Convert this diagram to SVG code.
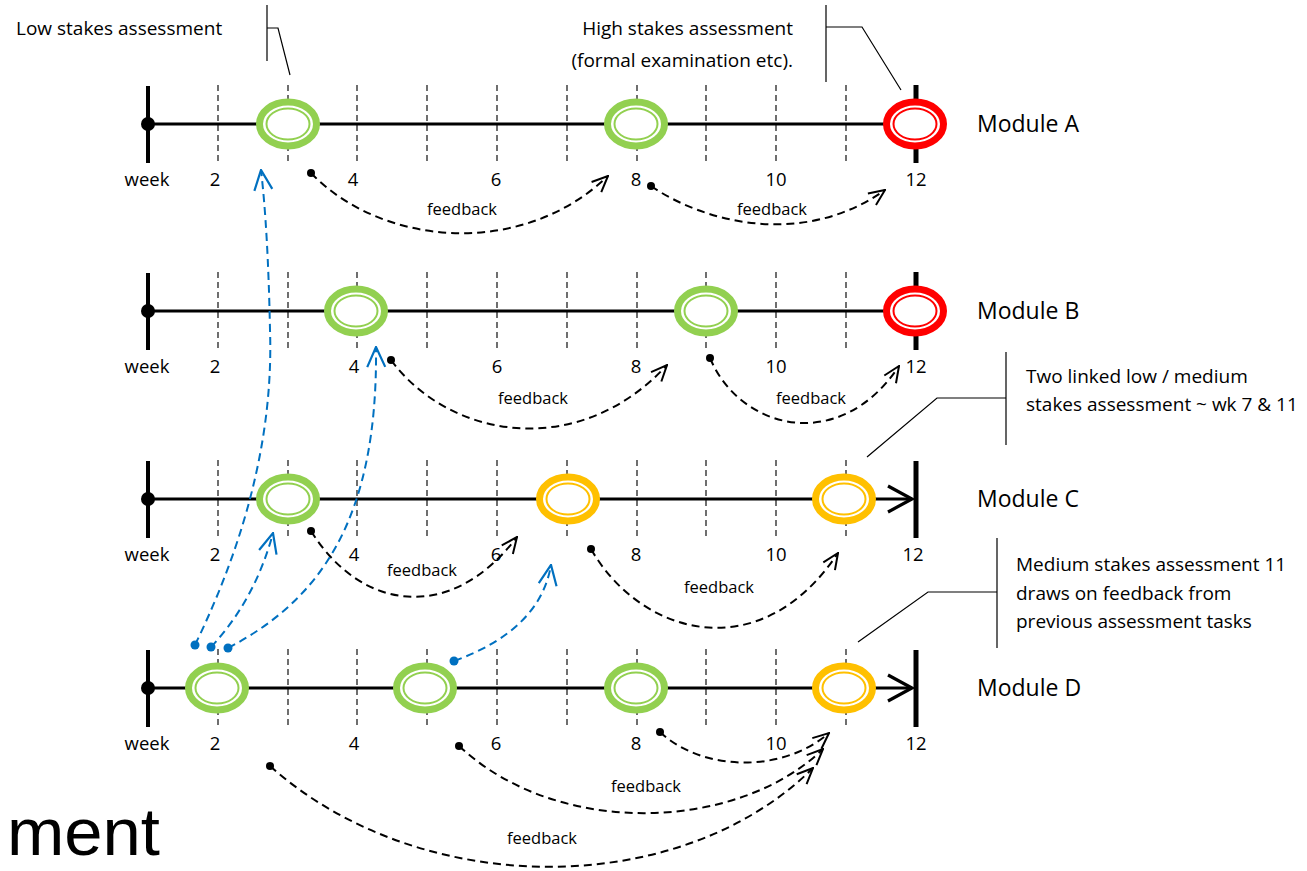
<svg xmlns="http://www.w3.org/2000/svg" width="1307" height="871" viewBox="0 0 1307 871">
<style>
.bg{fill:#fff}
.axis{stroke:#000;stroke-width:3.2;fill:none}
.bar{stroke:#000;stroke-width:4;fill:none}
.endbar{stroke:#000;stroke-width:5;fill:none}
.tick{stroke:#222;stroke-width:1.3;stroke-dasharray:6 4;fill:none}
.ring{fill:#fff;stroke-width:7}
.inner{fill:none;stroke-width:2}
.g{stroke:#92D050}
.r{stroke:#FF0000}
.o{stroke:#FFC000}
.t{font-family:"Open Sans","Liberation Sans",sans-serif;fill:#000}
.wk{font-size:18.5px;text-anchor:middle}
.mod{font-size:23px}
.note{font-size:19px}
.fbt{font-size:16.5px;text-anchor:middle}
.call{stroke:#000;stroke-width:1.2;fill:none}
.fb{stroke:#000;stroke-width:2;stroke-dasharray:8 5;fill:none;marker-start:url(#dotK);marker-end:url(#arrK)}
.bl{stroke:#0070C0;stroke-width:2;stroke-dasharray:8 5;fill:none;marker-start:url(#dotB);marker-end:url(#arrB)}
</style>
<defs>
<marker id="arrK" viewBox="0 0 20 20" refX="19" refY="10" markerWidth="20" markerHeight="20" markerUnits="userSpaceOnUse" orient="auto"><path d="M3,3 L19,10 L3,17" fill="none" stroke="#000" stroke-width="2"/></marker>
<marker id="arrB" viewBox="0 0 24 24" refX="23" refY="12" markerWidth="24" markerHeight="24" markerUnits="userSpaceOnUse" orient="auto"><path d="M3,3 L23,12 L3,21" fill="none" stroke="#0070C0" stroke-width="2.2"/></marker>
<marker id="dotK" viewBox="-5 -5 10 10" markerWidth="10" markerHeight="10" markerUnits="userSpaceOnUse"><circle r="4" fill="#000"/></marker>
<marker id="dotB" viewBox="-5 -5 10 10" markerWidth="10" markerHeight="10" markerUnits="userSpaceOnUse"><circle r="4.5" fill="#0070C0"/></marker>
<g id="ellG"><ellipse class="ring g" rx="28.5" ry="22"/><ellipse class="inner g" rx="21.5" ry="15.5"/></g>
<g id="ellR"><ellipse class="ring r" rx="28.5" ry="22"/><ellipse class="inner r" rx="21.5" ry="15.5"/></g>
<g id="ellO"><ellipse class="ring o" rx="28.5" ry="22"/><ellipse class="inner o" rx="21.5" ry="15.5"/></g>
<g id="ticks"><path class="tick" d="M218,-39V39M288,-39V39M357,-39V39M427,-39V39M497,-39V39M567,-39V39M637,-39V39M706,-39V39M776,-39V39M846,-39V39"/></g>
</defs>
<rect class="bg" width="1307" height="871"/>

<!-- Module A -->
<g id="module-a" transform="translate(0,124)">
<use href="#ticks"/>
<path class="axis" d="M148,0H912"/>
<path class="bar" d="M148,-38V39"/>
<circle cx="148" cy="0" r="7"/>
<path class="endbar" d="M916,-39V39"/>
<text class="t wk" x="147" y="62">week</text>
<text class="t wk" x="215" y="62">2</text>
<text class="t wk" x="353" y="62">4</text>
<text class="t wk" x="496" y="62">6</text>
<text class="t wk" x="636" y="62">8</text>
<text class="t wk" x="776" y="62">10</text>
<text class="t wk" x="916" y="62">12</text>
<text class="t mod" x="977" y="8">Module A</text>
</g>
<g id="a-wk3"><use href="#ellG" x="288" y="124"/></g>
<g id="a-wk8"><use href="#ellG" x="636" y="124"/></g>
<g id="a-wk12"><use href="#ellR" x="915" y="124"/></g>

<!-- Module B -->
<g id="module-b" transform="translate(0,311)">
<use href="#ticks"/>
<path class="axis" d="M148,0H912"/>
<path class="bar" d="M148,-38V39"/>
<circle cx="148" cy="0" r="7"/>
<path class="endbar" d="M916,-39V39"/>
<text class="t wk" x="147" y="62">week</text>
<text class="t wk" x="215" y="62">2</text>
<text class="t wk" x="354" y="62">4</text>
<text class="t wk" x="497" y="62">6</text>
<text class="t wk" x="636" y="62">8</text>
<text class="t wk" x="776" y="62">10</text>
<text class="t wk" x="916" y="62">12</text>
<text class="t mod" x="977" y="8">Module B</text>
</g>
<g id="b-wk4"><use href="#ellG" x="356" y="311"/></g>
<g id="b-wk9"><use href="#ellG" x="706" y="311"/></g>
<g id="b-wk12"><use href="#ellR" x="915" y="311"/></g>

<!-- Module C -->
<g id="module-c" transform="translate(0,499)">
<use href="#ticks"/>
<path class="axis" d="M148,0H912"/>
<path class="axis" d="M888,-13L912,0L888,13"/>
<path class="bar" d="M148,-38V39"/>
<circle cx="148" cy="0" r="7"/>
<path class="endbar" d="M916,-38V39"/>
<text class="t wk" x="147" y="62">week</text>
<text class="t wk" x="215" y="62">2</text>
<text class="t wk" x="354" y="62">4</text>
<text class="t wk" x="496" y="62">6</text>
<text class="t wk" x="636" y="62">8</text>
<text class="t wk" x="776" y="62">10</text>
<text class="t wk" x="913" y="62">12</text>
<text class="t mod" x="977" y="8">Module C</text>
</g>
<g id="c-wk3"><use href="#ellG" x="288" y="499"/></g>
<g id="c-wk7"><use href="#ellO" x="568" y="499"/></g>
<g id="c-wk11"><use href="#ellO" x="844" y="499"/></g>

<!-- Module D -->
<g id="module-d" transform="translate(0,688)">
<use href="#ticks"/>
<path class="axis" d="M148,0H912"/>
<path class="axis" d="M888,-13L912,0L888,13"/>
<path class="bar" d="M148,-38V39"/>
<circle cx="148" cy="0" r="7"/>
<path class="endbar" d="M916,-38V39"/>
<text class="t wk" x="147" y="62">week</text>
<text class="t wk" x="215" y="62">2</text>
<text class="t wk" x="354" y="62">4</text>
<text class="t wk" x="496" y="62">6</text>
<text class="t wk" x="636" y="62">8</text>
<text class="t wk" x="776" y="62">10</text>
<text class="t wk" x="916" y="62">12</text>
<text class="t mod" x="977" y="8">Module D</text>
</g>
<g id="d-wk2"><use href="#ellG" x="217" y="688"/></g>
<g id="d-wk5"><use href="#ellG" x="425" y="688"/></g>
<g id="d-wk8"><use href="#ellG" x="636" y="688"/></g>
<g id="d-wk11"><use href="#ellO" x="844" y="688"/></g>

<!-- Annotations -->
<g id="note-low">
<text class="t note" x="16" y="35">Low stakes assessment</text>
<path class="call" d="M267,5V61M267,28H278L290,75"/>
</g>
<g id="note-high">
<text class="t note" x="793" y="35" text-anchor="end">High stakes assessment</text>
<text class="t note" x="793" y="67" text-anchor="end">(formal examination etc).</text>
<path class="call" d="M826,5V82M826,27H862L901,90"/>
</g>
<g id="note-linked">
<text class="t note" x="1026" y="383">Two linked low / medium</text>
<text class="t note" x="1026" y="411">stakes assessment ~ wk 7 &amp; 11</text>
<path class="call" d="M1006,352V445M1006,398H937L867,457"/>
</g>
<g id="note-medium">
<text class="t note" x="1016" y="571">Medium stakes assessment 11</text>
<text class="t note" x="1016" y="600">draws on feedback from</text>
<text class="t note" x="1016" y="628">previous assessment tasks</text>
<path class="call" d="M997,538V648M997,592H928L858,642"/>
</g>
<g id="title-fragment">
<text x="7" y="855" font-family="'Liberation Sans',Arial,sans-serif" font-size="66" textLength="153" lengthAdjust="spacingAndGlyphs">ment</text>
</g>

<!-- Connectors -->
<g id="connectors">
<path class="fb" d="M311,173C380,245 520,260 608,176"/>
<path class="fb" d="M651,186C700,220 800,250 885,190"/>
<path class="fb" d="M391,360C450,440 580,460 667,365"/>
<path class="fb" d="M710,358C740,430 840,455 899,366"/>
<path class="fb" d="M311,531C360,610 450,625 517,537"/>
<path class="fb" d="M591,549C640,635 760,670 838,553"/>
<path class="fb" d="M660,732C700,770 780,775 829,733"/>
<path class="fb" d="M459,746C560,840 740,830 823,749"/>
<path class="fb" d="M270,766C420,900 680,900 813,768"/>
<path class="bl" d="M195,645Q275,480 270,330Q268,230 261,170"/>
<path class="bl" d="M211,647Q255,600 273,533"/>
<path class="bl" d="M228,648C320,600 378,520 376,347"/>
<path class="bl" d="M454,661Q540,630 551,565"/>
<g id="fb-labels">
<text class="t fbt" x="462" y="215">feedback</text>
<text class="t fbt" x="772" y="215">feedback</text>
<text class="t fbt" x="533" y="404">feedback</text>
<text class="t fbt" x="811" y="404">feedback</text>
<text class="t fbt" x="422" y="576">feedback</text>
<text class="t fbt" x="719" y="593">feedback</text>
<text class="t fbt" x="646" y="792">feedback</text>
<text class="t fbt" x="542" y="844">feedback</text>
</g>
</g>
</svg>
